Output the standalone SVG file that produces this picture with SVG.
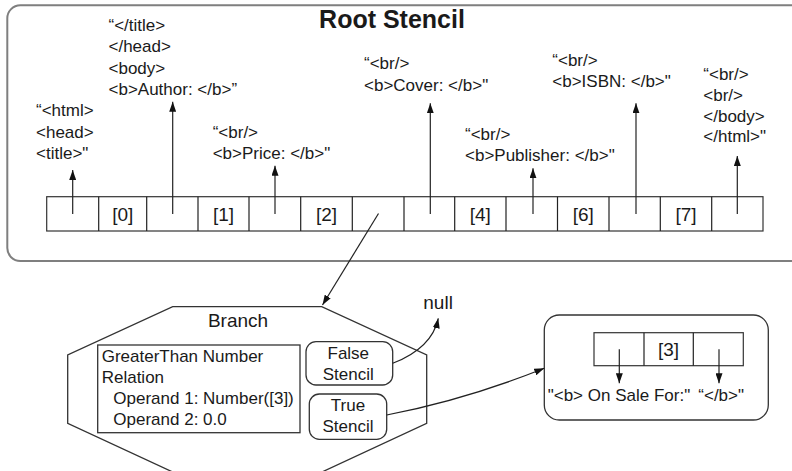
<svg xmlns="http://www.w3.org/2000/svg" width="792" height="471" viewBox="0 0 792 471">
<style>
text{font-family:"Liberation Sans",Arial,sans-serif;fill:#1a1a1a;font-size:17px}
.title{font-size:25px;font-weight:bold}
.big{font-size:19px}
.mid{text-anchor:middle}
.cell{fill:#fff;stroke:#333;stroke-width:1.2}
.ln{fill:none;stroke:#222;stroke-width:1.2}
.arr{fill:none;stroke:#222;stroke-width:1.2;marker-end:url(#ah)}
</style>
<defs>
<marker id="ah" viewBox="0 0 10 7" refX="10" refY="3.5" markerWidth="10" markerHeight="7" markerUnits="userSpaceOnUse" orient="auto">
<path d="M0,0 L10,3.5 L0,7 z" fill="#111"/>
</marker>
</defs>
<rect width="792" height="471" fill="#fff"/>
<g id="root-stencil">
<rect x="7.3" y="5.3" width="800" height="255.7" rx="13" fill="none" stroke="#7f7f7f" stroke-width="2"/>
<text class="title mid" x="392" y="28.3">Root Stencil</text>
</g>
<g id="root-array">
<rect class="cell" x="46.7" y="196.7" width="716.3" height="34.3"/>
<path class="ln" d="M98.7,196.7V231M146.7,196.7V231M198,196.7V231M249,196.7V231M300.7,196.7V231M352.3,196.7V231M404,196.7V231M454.7,196.7V231M506,196.7V231M557.5,196.7V231M609,196.7V231M660.3,196.7V231M711.7,196.7V231"/>
<text class="big mid" x="122.7" y="220.5">[0]</text>
<text class="big mid" x="223.5" y="220.5">[1]</text>
<text class="big mid" x="326.5" y="220.5">[2]</text>
<text class="big mid" x="480.3" y="220.5">[4]</text>
<text class="big mid" x="583.2" y="220.5">[6]</text>
<text class="big mid" x="686" y="220.5">[7]</text>
</g>
<g id="text-html">
<text x="36" y="116">“&lt;html&gt;</text>
<text x="36" y="137.7">&lt;head&gt;</text>
<text x="36" y="159.3">&lt;title&gt;"</text>
</g>
<g id="text-author">
<text x="108.5" y="30.5">“&lt;/title&gt;</text>
<text x="108.5" y="52">&lt;/head&gt;</text>
<text x="108.5" y="73.5">&lt;body&gt;</text>
<text x="108.5" y="95">&lt;b&gt;Author: &lt;/b&gt;”</text>
</g>
<g id="text-price">
<text x="212.7" y="138.3">“&lt;br/&gt;</text>
<text x="212.7" y="159.3">&lt;b&gt;Price: &lt;/b&gt;"</text>
</g>
<g id="text-cover">
<text x="364" y="69">“&lt;br/&gt;</text>
<text x="364" y="90.5">&lt;b&gt;Cover: &lt;/b&gt;"</text>
</g>
<g id="text-publisher">
<text x="465" y="140">“&lt;br/&gt;</text>
<text x="465" y="161">&lt;b&gt;Publisher: &lt;/b&gt;"</text>
</g>
<g id="text-isbn">
<text x="552.3" y="65.5">“&lt;br/&gt;</text>
<text x="552.3" y="86.5">&lt;b&gt;ISBN: &lt;/b&gt;"</text>
</g>
<g id="text-end">
<text x="703.3" y="80">“&lt;br/&gt;</text>
<text x="703.3" y="100.7">&lt;br/&gt;</text>
<text x="703.3" y="121.5">&lt;/body&gt;</text>
<text x="703.3" y="142">&lt;/html&gt;"</text>
</g>
<g id="branch">
<polygon points="172.7,306.7 321.7,306.7 426.7,355 426.7,423.3 322,472 172.7,472 67.7,423.3 67.7,355" fill="#fff" stroke="#333" stroke-width="1.3"/>
<text class="big mid" x="238" y="326.5">Branch</text>
</g>
<g id="condition">
<rect x="97.7" y="345" width="202.3" height="87.7" fill="#fff" stroke="#333" stroke-width="1.3"/>
<text x="101.7" y="362">GreaterThan Number</text>
<text x="101.7" y="382.5">Relation</text>
<text x="113.3" y="404">Operand 1: Number([3])</text>
<text x="113.3" y="425">Operand 2: 0.0</text>
</g>
<g id="false-stencil">
<rect x="306" y="341.7" width="86.7" height="43.3" rx="10" fill="#fff" stroke="#333" stroke-width="1.3"/>
<text class="mid" x="348.3" y="358.5">False</text>
<text class="mid" x="348.3" y="379.5">Stencil</text>
</g>
<g id="true-stencil">
<rect x="309.3" y="394" width="77.4" height="45.3" rx="10" fill="#fff" stroke="#333" stroke-width="1.3"/>
<text class="mid" x="348" y="411">True</text>
<text class="mid" x="348" y="432">Stencil</text>
</g>
<g id="null">
<text class="big" x="423.3" y="308.5">null</text>
</g>
<g id="sale-stencil">
<rect x="544.3" y="315" width="224" height="105" rx="15" fill="#fff" stroke="#333" stroke-width="1.3"/>
<rect class="cell" x="594" y="332.7" width="149.3" height="33"/>
<path class="ln" d="M644,332.7V365.7M693.3,332.7V365.7"/>
<text class="big mid" x="668.5" y="355.5">[3]</text>
<text x="547.7" y="401">"&lt;b&gt; On Sale For:"</text>
<text x="698.3" y="401">“&lt;/b&gt;"</text>
</g>
<g id="connectors">
<path class="arr" d="M72.7,214V170"/>
<path class="arr" d="M172.7,214V101.7"/>
<path class="arr" d="M275,214V165.7"/>
<path class="arr" d="M430.3,214V103.3"/>
<path class="arr" d="M533,214V168.3"/>
<path class="arr" d="M636,214V103.3"/>
<path class="arr" d="M737.3,214V156"/>
<path class="arr" d="M378.5,213.5L322.5,305"/>
<path class="arr" d="M392.7,363.3Q432,348 438.3,318.3"/>
<path class="arr" d="M386.7,415Q465,400 544.3,368.3"/>
<path class="arr" d="M619.3,349.3V383.3"/>
<path class="arr" d="M719,349.3V383.3"/>
</g>
</svg>
